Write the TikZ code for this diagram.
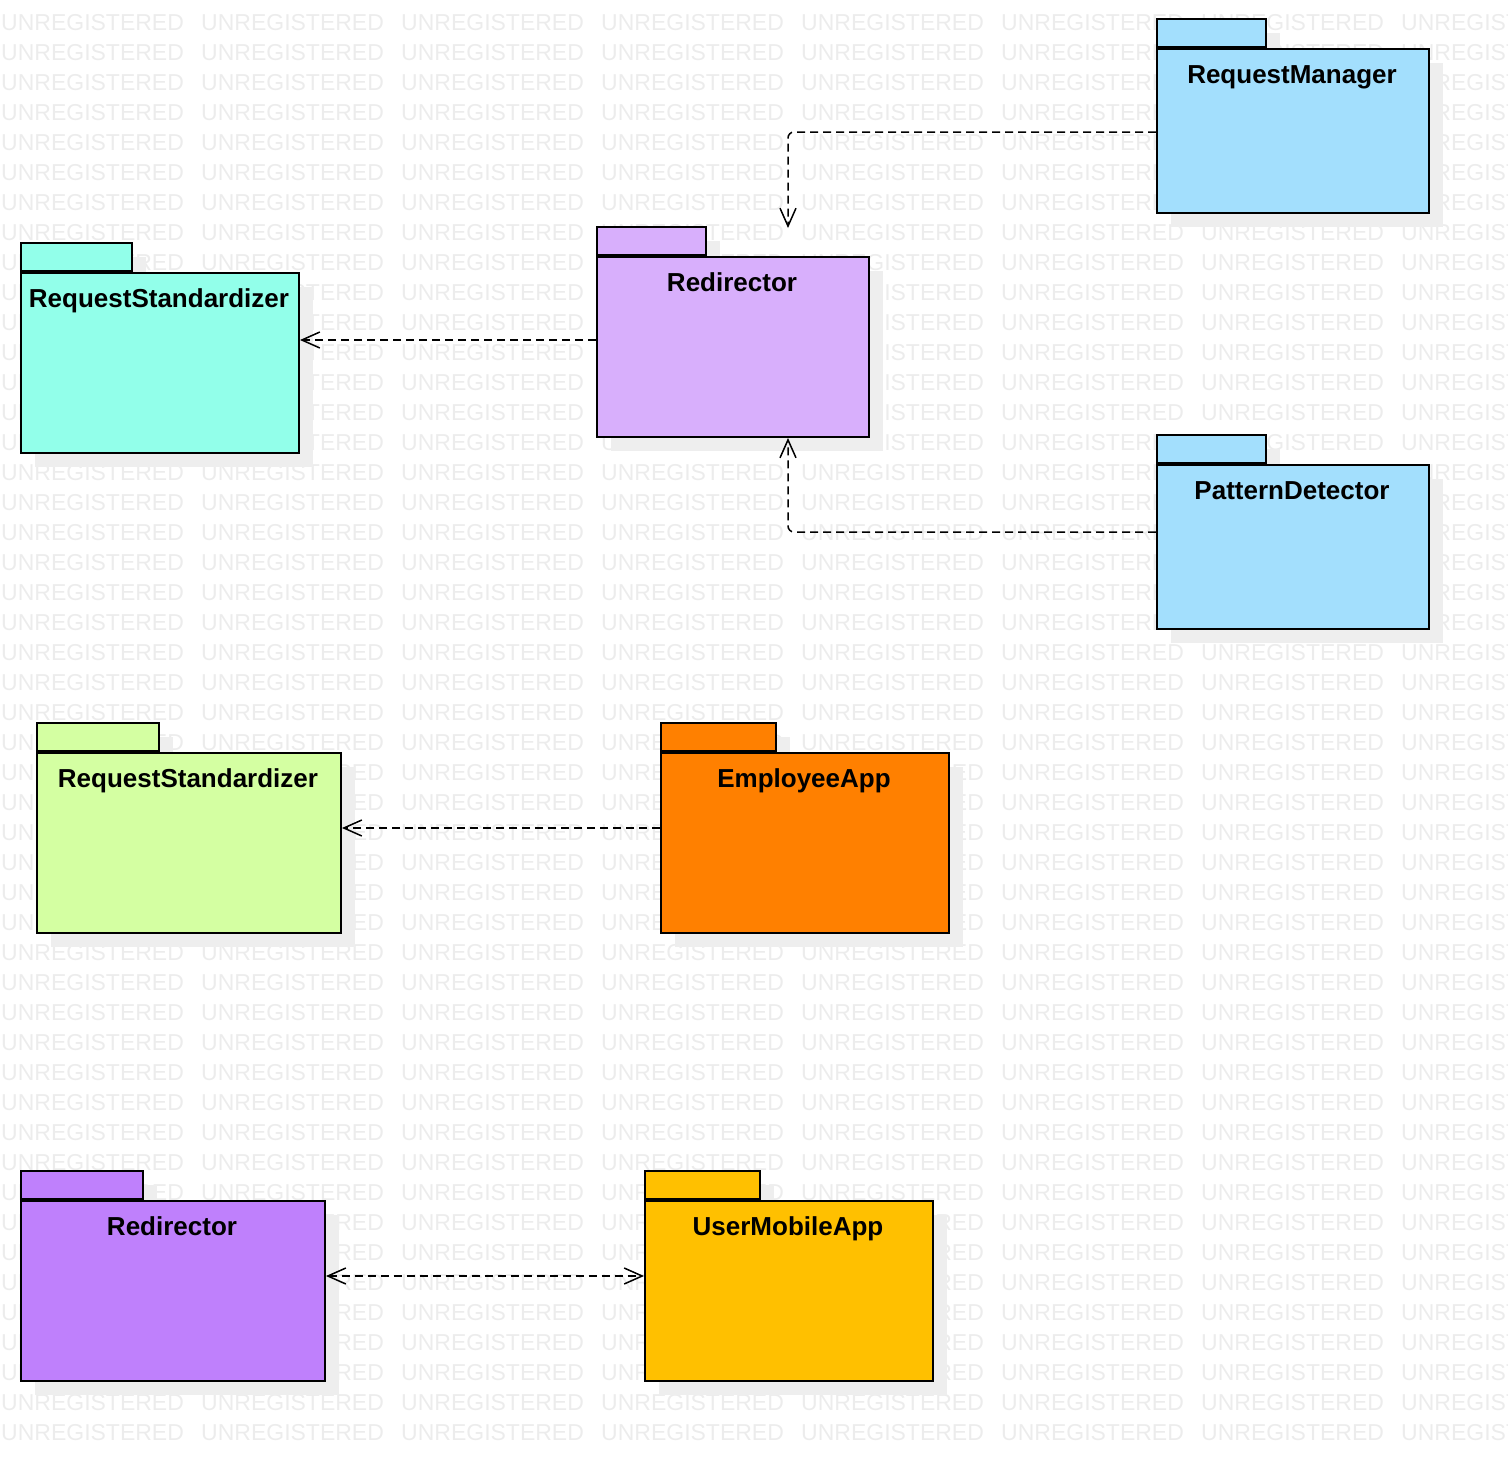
\documentclass[tikz,border=0pt]{standalone}
\usepackage{fontspec}
\setmainfont{Liberation Sans}
\usetikzlibrary{arrows.meta,shadows}
\definecolor{wmgray}{RGB}{236,236,236}
\definecolor{shgray}{RGB}{238,238,238}
\definecolor{cblue}{RGB}{163,223,253}
\definecolor{clilac}{RGB}{216,175,252}
\definecolor{ccyan}{RGB}{146,255,234}
\definecolor{cgreen}{RGB}{212,255,162}
\definecolor{corange}{RGB}{255,128,0}
\definecolor{cpurple}{RGB}{191,128,252}
\definecolor{cyellow}{RGB}{255,192,0}
\tikzset{
  wm/.style={text=wmgray, font=\fontsize{23}{23}\selectfont, inner sep=0pt, anchor=base west},
  pkgshadow/.style={drop shadow={shadow xshift=14pt, shadow yshift=-14pt, opacity=1, fill=shgray}},
  pkgbody/.style={draw=black, line width=2pt, anchor=north west, inner sep=0pt, pkgshadow},
  pkgtab/.style={draw=black, line width=2pt, anchor=south west, inner sep=0pt, minimum height=28pt, pkgshadow},
  pkgtitle/.style={font=\bfseries\fontsize{26}{26}\selectfont, inner sep=0pt, anchor=base},
  barb/.tip={Straight Barb[length=18pt,width=16pt,line width=1.5pt]},
  dep/.style={line width=1.5pt, dash pattern=on 8pt off 5pt, -barb},
}
\begin{document}
\begin{tikzpicture}[x=1pt,y=-1pt]
\useasboundingbox (0,0) rectangle (1508,1460);
% watermark
\foreach \r in {1,...,48}{
  \foreach \c in {0,...,7}{
    \node[wm] (wm-\r-\c) at (\c*200+1, \r*30) {UNREGISTERED};
  }
}
% RequestManager
\node[pkgtab, fill=cblue, minimum width=109pt] (rmtab) at (1156,48) {};
\node[pkgbody, fill=cblue, minimum width=272pt, minimum height=164pt] (rm) at (1156,48) {};
\node[pkgtitle] (rmt) at (1292,83) {RequestManager};
% Redirector top
\node[pkgtab, fill=clilac, minimum width=109pt] (r1tab) at (596,256) {};
\node[pkgbody, fill=clilac, minimum width=272pt, minimum height=180pt] (r1) at (596,256) {};
\node[pkgtitle] (r1t) at (732,291) {Redirector};
% RequestStandardizer cyan
\node[pkgtab, fill=ccyan, minimum width=111pt] (rs1tab) at (20,272) {};
\node[pkgbody, fill=ccyan, minimum width=278pt, minimum height=180pt] (rs1) at (20,272) {};
\node[pkgtitle] (rs1t) at (159,307) {RequestStandardizer};
% PatternDetector
\node[pkgtab, fill=cblue, minimum width=109pt] (pdtab) at (1156,464) {};
\node[pkgbody, fill=cblue, minimum width=272pt, minimum height=164pt] (pd) at (1156,464) {};
\node[pkgtitle] (pdt) at (1292,499) {PatternDetector};
% RequestStandardizer green
\node[pkgtab, fill=cgreen, minimum width=122pt] (rs2tab) at (36,752) {};
\node[pkgbody, fill=cgreen, minimum width=304pt, minimum height=180pt] (rs2) at (36,752) {};
\node[pkgtitle] (rs2t) at (188,787) {RequestStandardizer};
% EmployeeApp
\node[pkgtab, fill=corange, minimum width=115pt] (eatab) at (660,752) {};
\node[pkgbody, fill=corange, minimum width=288pt, minimum height=180pt] (ea) at (660,752) {};
\node[pkgtitle] (eat) at (804,787) {EmployeeApp};
% Redirector bottom
\node[pkgtab, fill=cpurple, minimum width=122pt] (r2tab) at (20,1200) {};
\node[pkgbody, fill=cpurple, minimum width=304pt, minimum height=180pt] (r2) at (20,1200) {};
\node[pkgtitle] (r2t) at (172,1235) {Redirector};
% UserMobileApp
\node[pkgtab, fill=cyellow, minimum width=115pt] (umtab) at (644,1200) {};
\node[pkgbody, fill=cyellow, minimum width=288pt, minimum height=180pt] (um) at (644,1200) {};
\node[pkgtitle] (umt) at (788,1235) {UserMobileApp};
% connectors
\coordinate (r1in) at (788,228);
\draw[dep, rounded corners=6pt] (rm.west |- 0,132) -| (r1in);
\draw[dep] (r1.west |- 0,340) -- (rs1.east |- 0,340);
\draw[dep, rounded corners=6pt] (pd.west |- 0,532) -| (r1.south -| r1in);
\draw[dep] (ea.west |- 0,828) -- (rs2.east |- 0,828);
\draw[dep, barb-barb] (r2.east |- 0,1276) -- (um.west |- 0,1276);
\end{tikzpicture}
\end{document}
